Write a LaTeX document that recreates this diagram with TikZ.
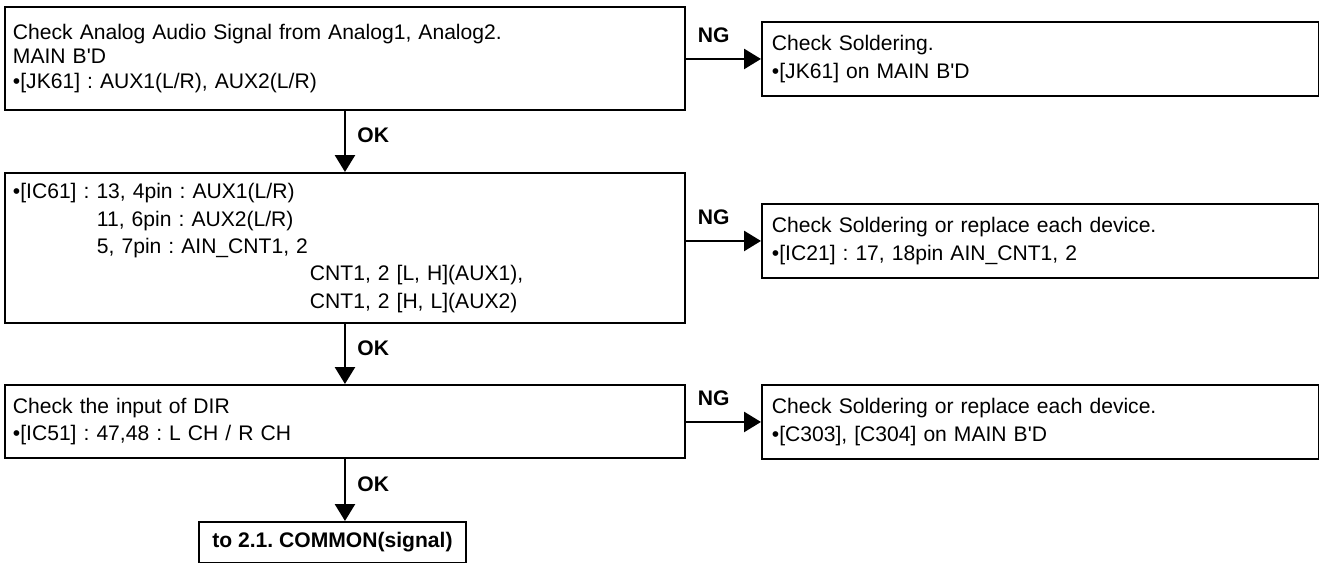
\documentclass[tikz,border=0pt]{standalone}
\usepackage{fontspec}
\setmainfont{Liberation Sans}
\usetikzlibrary{arrows.meta}
\frenchspacing

\begin{document}
\begin{tikzpicture}[scale=1,
  >={Triangle[length=0.34cm,width=0.4cm]},
  every node/.style={font=\fontsize{12}{15.6}\selectfont},
  chk/.style={draw, line width=1.1pt, anchor=north west, align=left,
    inner xsep=0.16cm, inner ysep=0pt, text width=13.28cm, minimum height=#1},
  ng/.style={draw, line width=1.1pt, anchor=north west, align=left,
    inner xsep=0.2cm, inner ysep=0pt, text width=10.74cm, minimum height=1.48cm},
  flow/.style={->, line width=1.5pt},
  lbl/.style={font=\fontsize{12}{14}\selectfont\bfseries}]
\useasboundingbox (0,0) rectangle (26.38,-11.26);

% checks down the left side
\node[chk=2.06cm, font=\fontsize{12}{13.9}\selectfont] (b1) at (0.08,-0.12)
  {Check Analog Audio Signal from Analog1, Analog2.\\
   MAIN B\textquotesingle D\\
   •[JK61] : AUX1(L/R), AUX2(L/R)};
\node[chk=3.0cm] (b2) at (0.08,-3.44)
  {•[IC61] : 13, 4pin : AUX1(L/R)\\
   \hspace*{1.68cm}11, 6pin : AUX2(L/R)\\
   \hspace*{1.68cm}5, 7pin : AIN\_CNT1, 2\\
   \hspace*{5.94cm}CNT1, 2 [L, H](AUX1),\\
   \hspace*{5.94cm}CNT1, 2 [H, L](AUX2)};
\node[chk=1.46cm] (b3) at (0.08,-7.68)
  {Check the input of DIR\\
   •[IC51] : 47,48 : L CH / R CH};
\node[draw, line width=1.1pt, anchor=north west, minimum width=5.34cm,
  minimum height=0.82cm, font=\fontsize{12}{14}\selectfont\bfseries] (fin) at (3.96,-10.42)
  {to 2.1. COMMON(signal)};

% repairs on the right
\node[ng] (n1) at (15.22,-0.42)
  {Check Soldering.\\
   •[JK61] on MAIN B\textquotesingle D};
\node[ng] (n2) at (15.22,-4.06)
  {Check Soldering or replace each device.\\
   •[IC21] : 17, 18pin AIN\_CNT1, 2};
\node[ng] (n3) at (15.22,-7.68)
  {Check Soldering or replace each device.\\
   •[C303], [C304] on MAIN B\textquotesingle D};

\draw[flow] (n1.west -| b1.east) -- (n1.west) node[lbl, pos=0.37, above=5pt] {NG};
\draw[flow] (n2.west -| b2.east) -- (n2.west) node[lbl, pos=0.37, above=5pt] {NG};
\draw[flow] (n3.west -| b3.east) -- (n3.west) node[lbl, pos=0.37, above=5pt] {NG};

\draw[flow] (b1.south) -- (b2.north) node[lbl, pos=0.4, right=3pt] {OK};
\draw[flow] (b2.south) -- (b3.north) node[lbl, pos=0.4, right=3pt] {OK};
\draw[flow] (b3.south) -- (b3.south |- fin.north) node[lbl, pos=0.4, right=3pt] {OK};
\end{tikzpicture}
\end{document}
